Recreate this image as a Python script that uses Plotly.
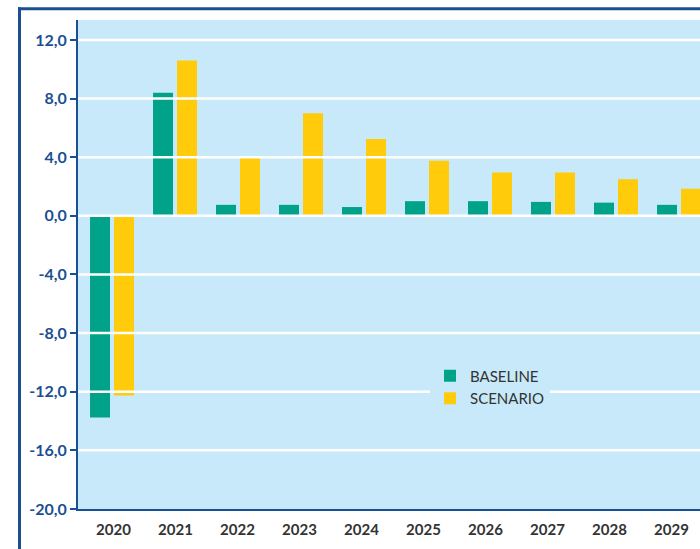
import plotly.graph_objects as go

years = ["2020", "2021", "2022", "2023", "2024", "2025", "2026", "2027", "2028", "2029"]
baseline = [-13.75, 8.4, 0.75, 0.75, 0.6, 1.0, 1.0, 0.95, 0.9, 0.75]
scenario = [-12.25, 10.6, 3.95, 7.0, 5.25, 3.75, 2.95, 2.95, 2.5, 1.85]
y_ticks = [-20, -16, -12, -8, -4, 0, 4, 8, 12]
y_ticktext = [("%.1f" % v).replace(".", ",") for v in y_ticks]

TEAL = "#00A38A"
YELLOW = "#FFCB0A"
BG = "#C7E9F9"
DBLUE = "#1B4F93"

fig = go.Figure()
fig.add_trace(go.Bar(x=years, y=baseline, name="BASELINE", marker=dict(color=TEAL, line_width=0)))
fig.add_trace(go.Bar(x=years, y=scenario, name="SCENARIO", marker=dict(color=YELLOW, line_width=0)))
# invisible helper trace for the label axis
fig.add_trace(go.Scatter(x=list(range(len(years))), y=[None] * len(years), xaxis="x2",
                         showlegend=False, hoverinfo="skip", mode="markers"))

W, H = 700, 549
ml, mr, mt, mb = 78, 0, 20, 40
pw, ph = W - ml - mr, H - mt - mb

shapes = []
for v in y_ticks:
    if v == y_ticks[0]:
        continue
    shapes.append(dict(type="line", xref="paper", yref="y", x0=0, x1=1, y0=v, y1=v,
                       line=dict(color="white", width=2.5), layer="above"))
# outer frame
fx = (19.5 - ml) / pw
fy = (H - mb - 8.7) / ph
fb = (H - mb - H - 5) / ph
shapes.append(dict(type="line", xref="paper", yref="paper", x0=fx, x1=fx, y0=fb, y1=fy + 1.5 / ph,
                   line=dict(color=DBLUE, width=3), layer="above"))
shapes.append(dict(type="line", xref="paper", yref="paper", x0=fx - 1.5 / pw, x1=1.05, y0=fy, y1=fy,
                   line=dict(color=DBLUE, width=3), layer="above"))

fig.update_layout(
    width=W, height=H,
    margin=dict(l=ml, r=mr, t=mt, b=mb, pad=0),
    paper_bgcolor="white",
    plot_bgcolor=BG,
    barmode="group",
    bargap=0.238,
    bargroupgap=0.167,
    shapes=shapes,
    showlegend=True,
    legend=dict(x=(430 - ml) / pw, y=(H - mb - 359.5) / ph, xanchor="left", yanchor="top",
                bgcolor=BG, font=dict(family="Lato", size=15, color="#333333"),
                traceorder="normal", itemwidth=30, tracegroupgap=0),
    xaxis=dict(type="category", range=[-0.54, -0.54 + pw / 63.0], showticklabels=False,
               showgrid=False, zeroline=False, showline=True, linecolor=DBLUE, linewidth=2,
               ticks=""),
    xaxis2=dict(overlaying="x", side="bottom", anchor="y", range=[-0.573, -0.573 + pw / 62.0],
                tickmode="array", tickvals=list(range(len(years))), ticktext=years,
                showgrid=False, zeroline=False, showline=False, ticks="", ticklabelstandoff=10,
                tickfont=dict(family="Lato", size=15, color="#333333", weight="bold")),
    yaxis=dict(range=[-20, 13.36], tickmode="array", tickvals=y_ticks, ticktext=y_ticktext,
               showgrid=False, zeroline=False, showline=True, linecolor=DBLUE, linewidth=2,
               ticks="outside", ticklen=6, tickwidth=2, tickcolor=DBLUE,
               tickfont=dict(family="Lato", size=16, color=DBLUE, weight="bold")),
)

fig.write_html("out.html", config={"displayModeBar": False},
               post_script="document.body.style.margin='0';document.body.style.overflow='hidden';")
